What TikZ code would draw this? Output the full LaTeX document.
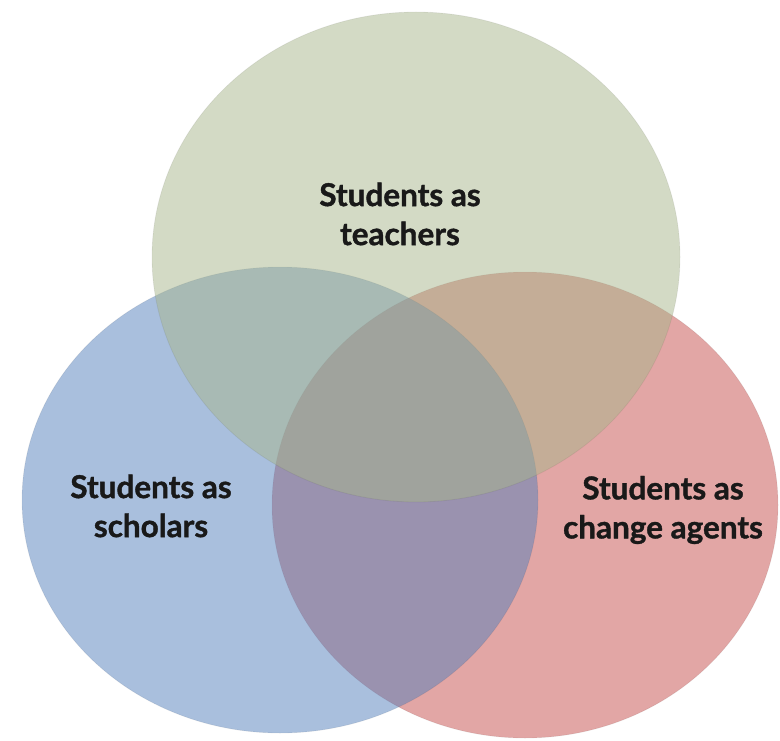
\documentclass[tikz,border=0pt]{standalone}
\usepackage{fontspec}
\setmainfont{Lato}[BoldFeatures={FakeBold=1.2}]
\usetikzlibrary{shapes.geometric,positioning}
\definecolor{sage}{RGB}{167,181,139}
\definecolor{steel}{RGB}{83,127,187}
\definecolor{rosy}{RGB}{197,77,75}
\tikzset{set/.style={ellipse, inner sep=0pt, fill opacity=0.5, draw=black, draw opacity=0.06, line width=0.8pt},
         lab/.style={align=center, text=black!90, font=\fontsize{31.5}{39}\selectfont\bfseries}}

\begin{document}
\begin{tikzpicture}[x=1pt, y=-1pt]
      \useasboundingbox (0,0) rectangle (780,741);
      % red first, blue over it, green on top
      \node[set, fill=rosy, minimum width=506pt, minimum height=466pt] (agents) at (525,505) {};
      \node[set, fill=steel, minimum width=516pt, minimum height=466pt] (scholars) at (280,500) {};
      \node[set, fill=sage, minimum width=528pt, minimum height=490pt] (teachers) at (416,257) {};
      \node[lab] (tlab) at (400,214) {Students as\\teachers};
      \node[lab] (slab) at (151,506) {Students as\\scholars};
      \node[lab] (alab) at (663,510) {Students as\\change agents};
\end{tikzpicture}
\end{document}
